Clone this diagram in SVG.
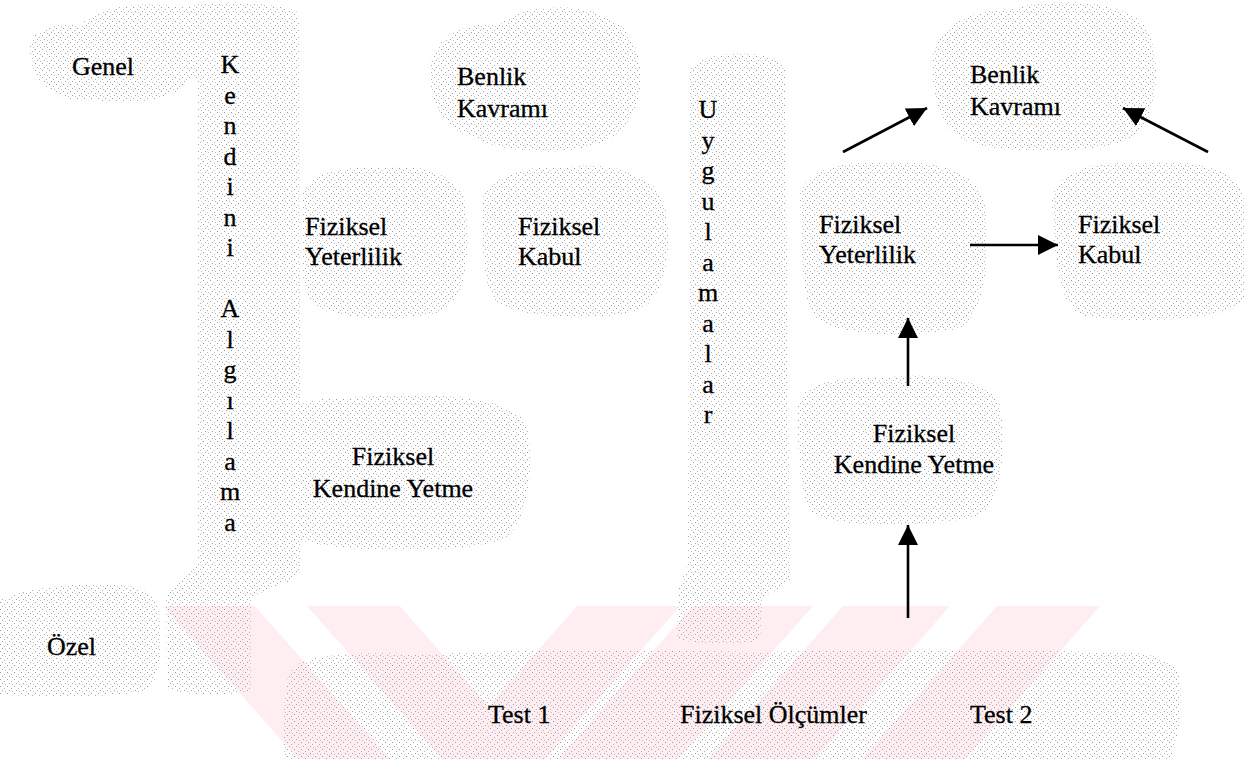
<svg xmlns="http://www.w3.org/2000/svg" width="1246" height="759" viewBox="0 0 1246 759">
<defs>
<pattern id="dots" width="7" height="7" patternUnits="userSpaceOnUse">
<rect x="0" y="0" width="1" height="1" fill="#9a9a9a"/>
<rect x="4" y="2" width="1" height="1" fill="#b0b0b0"/>
<rect x="2" y="4" width="1" height="1" fill="#a4a4a4"/>
<rect x="5" y="5" width="1" height="1" fill="#bcbcbc"/>
</pattern>
<marker id="ah" markerUnits="userSpaceOnUse" markerWidth="22" markerHeight="22" refX="20" refY="10" orient="auto">
<path d="M0,0 L20,10 L0,20 Z" fill="#000"/>
</marker>
<style>
.blob{fill:url(#dots);stroke:none}
.wm{fill:#feeef1;stroke:none}
.t{font-size:26px;fill:#000;stroke:#000;stroke-width:0.3}
.vt{text-anchor:middle}
.c{text-anchor:middle}
.arr{stroke:#000;stroke-width:2.6;fill:none;marker-end:url(#ah)}
</style>
</defs>
<rect width="1246" height="759" fill="#fff"/>

<g id="watermark">
<polygon class="wm" points="163,606 255,606 390,759 298,759"/>
<polygon class="wm" points="307,606 400,606 535,759 442,759"/>
<polygon class="wm" points="577,606 680,606 545,759 442,759"/>
<polygon class="wm" points="693,606 813,606 678,759 558,759"/>
<polygon class="wm" points="843,606 950,606 815,759 708,759"/>
<polygon class="wm" points="997,606 1100,606 965,759 862,759"/>
</g>

<g id="backgrounds">
<path class="blob" d="M30,50 C28,28 60,22 80,26 C95,6 150,0 180,8 C200,0 270,0 298,12 L298,60 C270,75 210,70 185,82 C178,100 130,106 95,100 C55,104 30,82 30,50 Z"/>
<path class="blob" d="M198,20 C220,8 280,8 299,22 L301,570 C292,588 258,586 252,602 L252,690 C228,697 182,696 167,688 L166,600 C170,582 194,578 197,560 Z"/>
<path class="blob" d="M430,80 C425,35 470,20 500,25 C520,2 600,0 625,30 C648,55 645,110 620,130 C600,155 520,158 480,140 C445,130 432,110 430,80 Z"/>
<path class="blob" d="M302,200 C300,175 340,165 380,168 C420,162 465,175 466,210 C470,250 468,300 440,312 C400,322 330,322 310,300 C298,280 303,240 302,200 Z"/>
<path class="blob" d="M482,210 C478,180 520,165 560,168 C600,160 655,170 665,205 C672,245 668,295 640,310 C600,322 520,320 495,300 C480,280 484,240 482,210 Z"/>
<path class="blob" d="M272,440 C268,410 310,396 350,398 C400,392 500,392 525,420 C535,450 532,520 505,538 C470,555 340,553 300,540 C272,528 274,480 272,440 Z"/>
<path class="blob" d="M690,70 C700,50 770,48 785,65 L790,580 C780,592 768,590 762,600 L760,640 C740,646 690,645 677,638 L678,590 C682,575 688,570 688,560 Z"/>
<path class="blob" d="M932,70 C930,25 975,8 1010,10 C1040,-2 1120,-2 1145,25 C1162,55 1160,110 1135,135 C1110,155 1000,156 965,140 C940,128 934,100 932,70 Z"/>
<path class="blob" d="M800,200 C798,172 840,160 880,163 C930,158 980,170 985,205 C990,250 988,310 960,328 C920,338 840,338 815,318 C800,300 802,240 800,200 Z"/>
<path class="blob" d="M1052,205 C1050,175 1090,160 1140,163 C1190,158 1240,168 1244,200 L1244,300 C1230,322 1120,324 1080,315 C1055,300 1054,240 1052,205 Z"/>
<path class="blob" d="M797,410 C795,385 840,375 880,378 C930,372 990,378 1000,405 C1006,440 1004,500 980,515 C940,528 840,528 815,515 C798,500 799,450 797,410 Z"/>
<path class="blob" d="M0,600 C20,588 80,582 120,585 C150,586 162,600 160,630 C162,660 160,685 140,692 C100,698 30,698 0,694 Z"/>
<path class="blob" d="M290,670 C300,655 360,650 420,655 C520,648 640,650 760,652 C880,648 1000,650 1100,652 C1150,650 1180,660 1180,680 C1182,710 1180,740 1170,759 L285,759 C282,730 284,690 290,670 Z"/>
</g>

<g id="connectors">
<line class="arr" x1="843" y1="152" x2="927" y2="108"/>
<line class="arr" x1="1208" y1="152" x2="1123" y2="108"/>
<line class="arr" x1="970" y1="245" x2="1058" y2="245"/>
<line class="arr" x1="908" y1="386" x2="908" y2="318"/>
<line class="arr" x1="908" y1="618" x2="908" y2="525"/>
</g>

<g font-family="Liberation Serif, Times New Roman, serif">
<g id="node-genel"><text class="t" x="72" y="75">Genel</text></g>
<g id="node-ozel"><text class="t" x="47" y="655">Özel</text></g>

<g id="node-kendini-algilama">
<text class="t vt" x="230" y="73">K<tspan x="230" dy="30.5">e</tspan><tspan x="230" dy="30.5">n</tspan><tspan x="230" dy="30.5">d</tspan><tspan x="230" dy="30.5">i</tspan><tspan x="230" dy="30.5">n</tspan><tspan x="230" dy="30.5">i</tspan><tspan x="230" dy="61">A</tspan><tspan x="230" dy="30.5">l</tspan><tspan x="230" dy="30.5">g</tspan><tspan x="230" dy="30.5">ı</tspan><tspan x="230" dy="30.5">l</tspan><tspan x="230" dy="30.5">a</tspan><tspan x="230" dy="30.5">m</tspan><tspan x="230" dy="30.5">a</tspan></text>
</g>

<g id="node-uygulamalar">
<text class="t vt" x="708" y="118">U<tspan x="708" dy="30.5">y</tspan><tspan x="708" dy="30.5">g</tspan><tspan x="708" dy="30.5">u</tspan><tspan x="708" dy="30.5">l</tspan><tspan x="708" dy="30.5">a</tspan><tspan x="708" dy="30.5">m</tspan><tspan x="708" dy="30.5">a</tspan><tspan x="708" dy="30.5">l</tspan><tspan x="708" dy="30.5">a</tspan><tspan x="708" dy="30.5">r</tspan></text>
</g>

<g id="node-benlik-1"><text class="t" x="457" y="85">Benlik</text><text class="t" x="457" y="117">Kavramı</text></g>
<g id="node-yeterlilik-1"><text class="t" x="305" y="235">Fiziksel</text><text class="t" x="305" y="265">Yeterlilik</text></g>
<g id="node-kabul-1"><text class="t" x="518" y="235">Fiziksel</text><text class="t" x="518" y="265">Kabul</text></g>
<g id="node-kendine-1"><text class="t c" x="393" y="465">Fiziksel</text><text class="t c" x="393" y="497">Kendine Yetme</text></g>

<g id="node-benlik-2"><text class="t" x="970" y="83">Benlik</text><text class="t" x="970" y="115">Kavramı</text></g>
<g id="node-yeterlilik-2"><text class="t" x="819" y="233">Fiziksel</text><text class="t" x="819" y="263">Yeterlilik</text></g>
<g id="node-kabul-2"><text class="t" x="1078" y="233">Fiziksel</text><text class="t" x="1078" y="263">Kabul</text></g>
<g id="node-kendine-2"><text class="t c" x="914" y="442">Fiziksel</text><text class="t c" x="914" y="473">Kendine Yetme</text></g>

<g id="node-test1"><text class="t" x="488" y="723">Test 1</text></g>
<g id="node-olcumler"><text class="t" x="680" y="723">Fiziksel Ölçümler</text></g>
<g id="node-test2"><text class="t" x="970" y="723">Test 2</text></g>
</g>
</svg>
